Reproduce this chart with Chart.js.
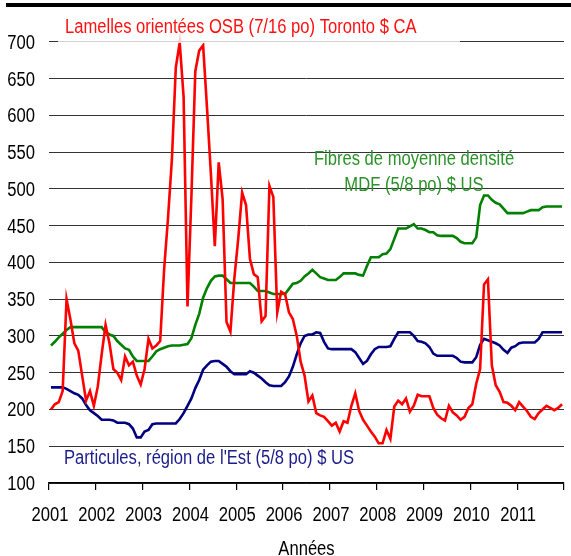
<!DOCTYPE html>
<html>
<head>
<meta charset="utf-8">
<script src="https://cdn.jsdelivr.net/npm/chart.js@4/dist/chart.umd.min.js"></script>
<style>
  html, body { margin: 0; padding: 0; background: #fff; }
</style>
</head>
<body>
<canvas id="chart" width="571" height="556"></canvas>
<script>
// monthly prices, Jan 2001 .. Dec 2011
const osb = [
  200, 207, 210, 225, 350, 322, 290, 280, 246, 212, 225, 205,
  231, 275, 315, 290, 255, 250, 240, 272, 260, 265, 246, 234,
  255, 296, 283, 287, 293, 390, 460, 540, 665, 699, 625, 340,
  490, 660, 688, 695, 610, 520, 422, 536, 486, 319, 306, 378,
  432, 495, 478, 405, 384, 380, 320, 327, 504, 489, 332, 360,
  357, 332, 323, 300, 265, 246, 211, 219, 195, 192, 190, 184,
  178, 182, 170, 184, 182, 205, 222, 198, 186, 178, 170, 163,
  154, 154, 172, 160, 204, 212, 207, 215, 197, 205, 220, 218,
  218, 218, 202, 193, 188, 185, 205, 196, 192, 186, 190, 202,
  207, 235, 255, 370, 377, 260, 233, 224, 210, 209, 205, 199,
  210, 204, 198, 190, 187, 195, 200, 205, 202, 199, 202, 207
];
const mdf = [
  287, 292, 298, 303, 308, 312, 312, 312, 312, 312, 312, 312,
  312, 312, 305, 302, 300, 293, 288, 283, 281, 272, 266, 266,
  266, 266, 272, 279, 282, 284, 286, 287, 287, 287, 288, 289,
  297, 315, 330, 352, 365, 375, 381, 382, 382, 377, 372, 372,
  372, 372, 372, 372, 367, 361, 361, 361, 359, 357, 357, 357,
  357, 364, 371, 372, 375, 381, 385, 390, 385, 380, 378, 376,
  376, 376, 380, 385, 385, 385, 385, 383, 382, 395, 407, 407,
  407, 411, 412, 418, 432, 446, 446, 446, 449, 452, 446, 446,
  444, 441, 441, 437, 436, 436, 436, 436, 433, 428, 426, 426,
  426, 434, 478, 491, 491, 485, 481, 479, 473, 467, 467, 467,
  467, 467, 469, 471, 471, 471, 475, 476, 476, 476, 476, 476
];
const particules = [
  230, 230, 230, 230, 228, 225, 222, 220, 215, 206, 199, 195,
  191, 186, 186, 186, 185, 182, 182, 182, 180, 174, 162, 162,
  170, 172, 180, 181, 181, 181, 181, 181, 181, 187, 195, 205,
  215, 229, 240, 254, 260, 265, 266, 266, 262, 258, 252, 248,
  248, 248, 248, 252, 250, 246, 242, 237, 233, 232, 232, 232,
  237, 245, 258, 275, 290, 300, 302, 302, 305, 304, 292, 283,
  282, 282, 282, 282, 282, 282, 278, 270, 262, 266, 275, 282,
  285, 285, 285, 286, 296, 305, 305, 305, 305, 300, 293, 292,
  290, 285, 276, 273, 273, 273, 273, 273, 270, 265, 264, 264,
  264, 271, 288, 296, 294, 292, 290, 287, 281, 277, 284, 286,
  290, 291, 291, 291, 291, 296, 305, 305, 305, 305, 305, 305
];
const firstYear = 2001;
const lastYear = 2012;
const yMin = 100, yMax = 750, yTop = 700, yStep = 50;

// no Arial Narrow here, so squeeze Liberation Sans horizontally
const FONT = '20px "Liberation Sans", Arial, sans-serif';
const SQUEEZE = 0.83;

// put each monthly value in the middle of its month
function toPoints(values) {
  return values.map((v, i) => ({ x: firstYear + (i + 0.5) / 12, y: v }));
}

function narrowText(ctx, text, x, y, align) {
  ctx.save();
  ctx.translate(x, y);
  ctx.scale(SQUEEZE, 1);
  ctx.textAlign = align;
  ctx.fillText(text, 0, 0);
  ctx.restore();
}

const labels = {
  id: 'labels',
  afterDatasetsDraw(chart) {
    const ctx = chart.ctx;
    ctx.save();
    // light boxes behind the two series names
    ctx.fillStyle = 'rgba(255,255,255,0.78)';
    ctx.fillRect(58, 9, 402, 34);
    ctx.fillRect(58, 447, 328, 27);

    ctx.font = FONT;
    ctx.textBaseline = 'alphabetic';
    ctx.fillStyle = '#ff1010';
    narrowText(ctx, 'Lamelles orientées OSB (7/16 po) Toronto $ CA', 65, 33, 'left');
    ctx.fillStyle = '#1c1c8c';
    narrowText(ctx, "Particules, région de l'Est (5/8 po) $ US", 64, 464, 'left');
    ctx.fillStyle = '#2a922a';
    narrowText(ctx, 'Fibres de moyenne densité', 414, 165, 'center');
    narrowText(ctx, 'MDF (5/8 po) $ US', 414, 191, 'center');

    // heavy rule across the top
    ctx.fillStyle = '#000';
    ctx.fillRect(6, 3, 565, 4);
    ctx.restore();
  },
  afterDraw(chart) {
    const ctx = chart.ctx;
    const xs = chart.scales.x, ys = chart.scales.y;
    ctx.save();
    ctx.font = FONT;
    ctx.fillStyle = '#000';
    ctx.textBaseline = 'alphabetic';
    ys.ticks.forEach(t => {
      if (t.value > yTop) return;
      narrowText(ctx, String(t.value), 35, ys.getPixelForValue(t.value) + 7, 'right');
    });
    xs.ticks.forEach(t => {
      if (t.value >= lastYear) return;
      narrowText(ctx, String(t.value), xs.getPixelForValue(t.value) + 1, 521, 'center');
    });
    narrowText(ctx, 'Années', (xs.left + xs.right) / 2, 555, 'center');
    ctx.restore();
  }
};

new Chart(document.getElementById('chart'), {
  type: 'line',
  data: {
    datasets: [
      { label: 'OSB', data: toPoints(osb), borderColor: '#ff0000', borderWidth: 2.6 },
      { label: 'MDF', data: toPoints(mdf), borderColor: '#008000', borderWidth: 2.6 },
      { label: 'Particules', data: toPoints(particules), borderColor: '#000080', borderWidth: 2.6 }
    ]
  },
  options: {
    responsive: false,
    animation: false,
    events: [],
    layout: { padding: { left: 0, right: 7, top: 5, bottom: 0 } },
    elements: {
      point: { radius: 0 },
      line: { tension: 0, fill: false }
    },
    plugins: {
      legend: { display: false },
      tooltip: { enabled: false }
    },
    scales: {
      x: {
        type: 'linear',
        min: firstYear,
        max: lastYear,
        border: { color: '#000', width: 1.5 },
        grid: { drawOnChartArea: false, color: '#000', tickLength: 7, lineWidth: 1.2 },
        ticks: { stepSize: 1, autoSkip: false, display: false },
        afterFit: s => { s.height = 73; }
      },
      y: {
        min: yMin,
        max: yMax,
        border: { display: false },
        grid: { color: '#333', lineWidth: 1, drawTicks: false },
        ticks: { stepSize: yStep, display: false },
        afterFit: s => { s.width = 49; }
      }
    }
  },
  plugins: [labels]
});
</script>
</body>
</html>
